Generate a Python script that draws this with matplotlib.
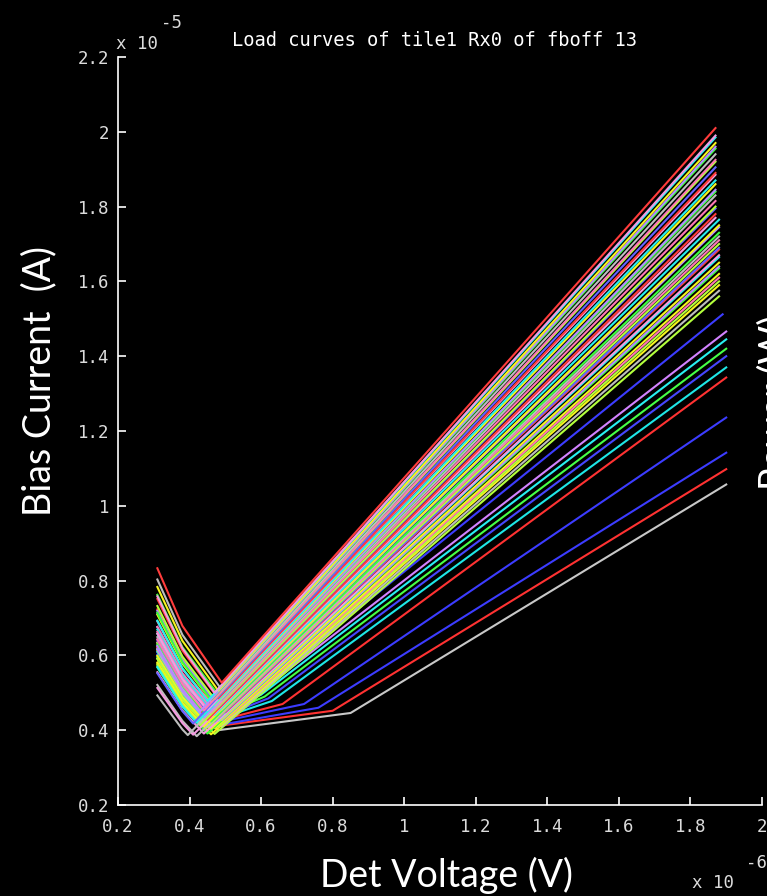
import matplotlib
matplotlib.use("Agg")
import matplotlib.pyplot as plt
from matplotlib.ticker import FuncFormatter

# Load curves: detector voltage in units of 1e-6 V, bias current in units of 1e-5 A.
# Each curve is described by: start of sweep, a point on the transition branch,
# the turnaround (kink), a point on the normal branch, and the end of sweep.
V_START = 0.31
V_LEFT = 0.38

start_current = [
    0.833, 0.758, 0.693, 0.783, 0.625, 0.714, 0.803, 0.643, 0.732, 0.552,
    0.751, 0.658, 0.569, 0.709, 0.616, 0.762, 0.493, 0.663, 0.574, 0.713,
    0.622, 0.513, 0.669, 0.581, 0.719, 0.628, 0.521, 0.676, 0.591, 0.641,
    0.723, 0.555, 0.658, 0.599, 0.676, 0.568, 0.614, 0.691, 0.633, 0.577,
    0.649, 0.591,
    0.619, 0.622, 0.608, 0.602, 0.623, 0.610, 0.593, 0.596, 0.617, 0.635,
    0.627,
]
left_current = [
    0.679, 0.619, 0.566, 0.639, 0.510, 0.582, 0.655, 0.524, 0.597, 0.451,
    0.613, 0.537, 0.464, 0.578, 0.503, 0.622, 0.402, 0.540, 0.468, 0.582,
    0.507, 0.419, 0.546, 0.474, 0.587, 0.512, 0.425, 0.552, 0.482, 0.523,
    0.590, 0.453, 0.537, 0.489, 0.551, 0.463, 0.501, 0.563, 0.516, 0.471,
    0.529, 0.482,
    0.505, 0.507, 0.496, 0.491, 0.508, 0.497, 0.484, 0.486, 0.503, 0.518,
    0.512,
]
kink_voltage = [
    0.49, 0.47, 0.45, 0.48, 0.43, 0.46, 0.49, 0.44, 0.47, 0.41,
    0.48, 0.45, 0.42, 0.47, 0.44, 0.49, 0.395, 0.46, 0.43, 0.48,
    0.45, 0.41, 0.47, 0.44, 0.49, 0.46, 0.42, 0.48, 0.45, 0.47,
    0.50, 0.44, 0.48, 0.46, 0.49, 0.45, 0.47, 0.50, 0.48, 0.46,
    0.49, 0.47,
    0.48, 0.47, 0.46, 0.45, 0.46, 0.45, 0.44, 0.44, 0.45, 0.46,
    0.45,
]
kink_current = [
    0.527, 0.500, 0.478, 0.506, 0.451, 0.481, 0.508, 0.453, 0.483, 0.418,
    0.485, 0.454, 0.420, 0.468, 0.434, 0.482, 0.387, 0.447, 0.414, 0.461,
    0.428, 0.388, 0.441, 0.410, 0.455, 0.423, 0.384, 0.437, 0.407, 0.423,
    0.448, 0.391, 0.425, 0.404, 0.427, 0.391, 0.405, 0.428, 0.409, 0.389,
    0.411, 0.390,
    0.400, 0.410, 0.410, 0.415, 0.420, 0.420, 0.418, 0.420, 0.425, 0.428,
    0.432,
]
knee_voltage = [1.2] * 42 + [0.85, 0.80, 0.76, 0.72, 0.66, 0.63, 0.62, 0.61, 0.60, 0.60, 0.60]
knee_current = [
    1.290, 1.277, 1.274, 1.264, 1.258, 1.255, 1.245, 1.235, 1.232, 1.222,
    1.213, 1.210, 1.200, 1.194, 1.184, 1.181, 1.174, 1.165, 1.155, 1.152,
    1.142, 1.136, 1.127, 1.117, 1.114, 1.104, 1.098, 1.092, 1.085, 1.079,
    1.076, 1.066, 1.063, 1.053, 1.047, 1.044, 1.034, 1.028, 1.021, 1.015,
    1.005, 0.996,
    0.446, 0.452, 0.460, 0.470, 0.470, 0.478, 0.485, 0.490, 0.495, 0.505,
    0.515,
]
end_voltage = [1.87] * 22 + [1.88] * 20 + [1.90] * 10 + [1.89]
end_current = [
    2.010, 1.990, 1.985, 1.970, 1.960, 1.955, 1.940, 1.925, 1.920, 1.905,
    1.890, 1.885, 1.870, 1.860, 1.845, 1.840, 1.830, 1.815, 1.800, 1.795,
    1.780, 1.770, 1.765, 1.750, 1.745, 1.730, 1.720, 1.710, 1.700, 1.690,
    1.685, 1.670, 1.665, 1.650, 1.640, 1.635, 1.620, 1.610, 1.600, 1.590,
    1.575, 1.560,
    1.057, 1.098, 1.142, 1.236, 1.343, 1.370, 1.400, 1.420, 1.445, 1.466,
    1.512,
]

x_ticks = [0.2, 0.4, 0.6, 0.8, 1.0, 1.2, 1.4, 1.6, 1.8, 2.0]
y_ticks = [0.2, 0.4, 0.6, 0.8, 1.0, 1.2, 1.4, 1.6, 1.8, 2.0, 2.2]

# Line colours
palette = ["#ff3c3c", "#f59ae0", "#28f0f0", "#f5f51e", "#b48cff",
           "#3cff3c", "#bebebe", "#ff78b4", "#b4ff3c", "#6464ff"]
bottom_colors = ["#c8c8c8", "#ff3232", "#3c3cff", "#3c3cff", "#ff3232",
                 "#1ee6e6", "#4646ff", "#46ff46", "#28f0f0", "#d282ff", "#3c3cff"]
n_upper = 42
upper_colors = [palette[i % len(palette)] for i in range(n_upper)]
upper_colors[36] = "#f5f51e"
upper_colors[39] = "#f5f51e"
upper_colors[40] = "#bebebe"
upper_colors[41] = "#b4ff3c"
line_colors = upper_colors + bottom_colors

mono = "DejaVu Sans Mono"
label_font = "Lato"

fig = plt.figure(figsize=(7.67, 8.96), dpi=100, facecolor="black")
ax = fig.add_axes([118 / 767, 91 / 896, 644 / 767, 748 / 896], facecolor="black")

order = list(range(n_upper, len(end_current))) + list(range(n_upper - 1, -1, -1))
for i in order:
    vs = [V_START, V_LEFT, kink_voltage[i], knee_voltage[i], end_voltage[i]]
    cs = [start_current[i], left_current[i], kink_current[i], knee_current[i], end_current[i]]
    ax.plot(vs, cs, color=line_colors[i], lw=1.5, solid_joinstyle="round")

ax.set_xlim(0.2, 2.0)
ax.set_ylim(0.2, 2.2)
ax.set_xticks(x_ticks)
ax.set_yticks(y_ticks)
fmt = FuncFormatter(lambda v, _: "%g" % round(v, 2))
ax.xaxis.set_major_formatter(fmt)
ax.yaxis.set_major_formatter(fmt)
for side in ("top", "right"):
    ax.spines[side].set_visible(False)
for side in ("left", "bottom"):
    ax.spines[side].set_color("white")
    ax.spines[side].set_linewidth(1.2)
ax.tick_params(direction="in", length=6, width=1.2, color="white",
               labelcolor="#dcdcdc", labelsize=12.5)
ax.tick_params(axis="x", pad=9)
ax.tick_params(axis="y", pad=6)
for lab in ax.get_xticklabels() + ax.get_yticklabels():
    lab.set_family(mono)

# Title and axis multipliers
fig.text(435 / 767, 1 - 46 / 896, "Load curves of tile1 Rx0 of fboff 13",
         family=mono, fontsize=13.5, color="white", ha="center", va="baseline")
fig.text(116 / 767, 1 - 49 / 896, "x 10", family=mono, fontsize=12.5,
         color="#dcdcdc", ha="left", va="baseline")
fig.text(161 / 767, 1 - 28 / 896, "-5", family=mono, fontsize=12.5,
         color="#dcdcdc", ha="left", va="baseline")
fig.text(692 / 767, 1 - 888 / 896, "x 10", family=mono, fontsize=12.5,
         color="#dcdcdc", ha="left", va="baseline")
fig.text(746 / 767, 1 - 868 / 896, "-6", family=mono, fontsize=12.5,
         color="#dcdcdc", ha="left", va="baseline")

# Axis labels
fig.text(39 / 767, 1 - 381 / 896, "Bias Current  (A)", family=label_font,
         fontsize=27, color="white", rotation=90, ha="center", va="center")
fig.text(446 / 767, 1 - 887 / 896, "Det Voltage (V)", family=label_font,
         fontsize=27, color="white", ha="center", va="baseline")
fig.text(786 / 767, 1 - 490 / 896, "Power (W)", family=label_font,
         fontsize=27, color="white", rotation=90, rotation_mode="anchor",
         ha="left", va="baseline")

fig.savefig("out.png", dpi=100, facecolor="black")
